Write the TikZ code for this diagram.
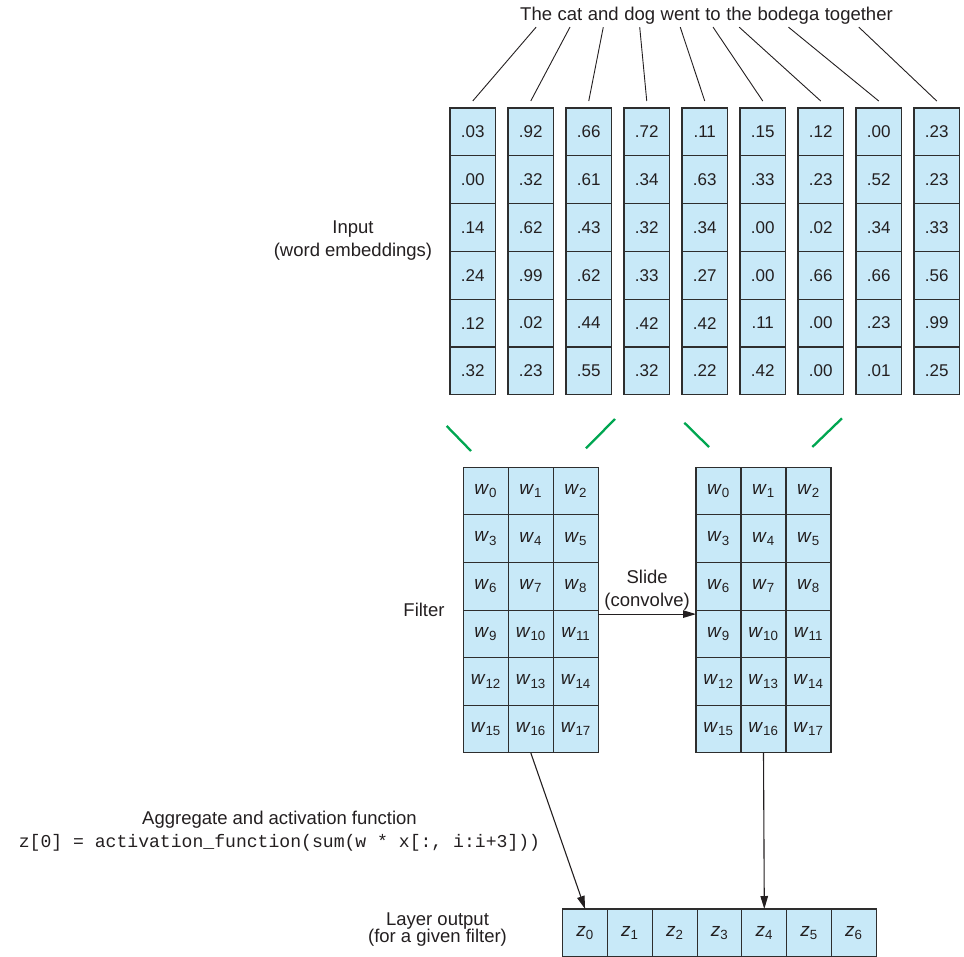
\documentclass[tikz,border=0pt]{standalone}
\usepackage{fontspec}
\setmainfont{Liberation Sans}
\setmonofont{Liberation Mono}
\usetikzlibrary{arrows.meta,positioning}
\definecolor{cellfill}{HTML}{C8E9F8}
\definecolor{cellline}{HTML}{2E2E2E}
\definecolor{ink}{HTML}{231F20}
\definecolor{winedge}{HTML}{00A651}
\newcommand{\wsub}[1]{\textit{w}\textsubscript{#1}}
\newcommand{\zsub}[1]{\textit{z}\textsubscript{#1}}

\begin{document}
\begin{tikzpicture}[
  x=1pt,y=1pt,
  font=\fontsize{18.5}{22.5}\selectfont,
  box/.style={draw=cellline,line width=1.1pt,fill=cellfill,inner sep=0pt,outer sep=0pt,text=ink},
  num/.style={box,minimum width=45.5pt,minimum height=47.8pt,font=\fontsize{17}{20}\selectfont},
  wbox/.style={box,minimum width=45pt,minimum height=47.6pt,font=\fontsize{19}{22}\selectfont},
  zbox/.style={box,minimum width=44.8pt,minimum height=47.8pt,font=\fontsize{19}{22}\selectfont},
  word/.style={inner xsep=0pt,inner ysep=3.7pt,text height=0.72em,text depth=0.25em,text=ink},
  lbl/.style={align=center,text=ink},
  wire/.style={draw=ink,line width=0.9pt},
  arr/.style={-{Triangle[length=13pt,width=7.5pt]},draw=ink,line width=1.1pt},
  winline/.style={draw=winedge,line width=2.3pt}
]
\useasboundingbox (0,0) rectangle (964,-956);

% sentence, one node per word
\node[word,anchor=base west] (t1) at (520,-20.7) {The};
\node[word,right=5.15pt of t1] (t2) {cat};
\node[word,right=5.15pt of t2] (t3) {and};
\node[word,right=5.15pt of t3] (t4) {dog};
\node[word,right=5.15pt of t4] (t5) {went};
\node[word,right=5.15pt of t5] (t6) {to};
\node[word,right=5.15pt of t6] (t7) {the};
\node[word,right=5.15pt of t7] (t8) {bodega};
\node[word,right=5.15pt of t8] (t9) {together};

% input embeddings
\foreach \row/\vals in {
  1/{.03,.92,.66,.72,.11,.15,.12,.00,.23},
  2/{.00,.32,.61,.34,.63,.33,.23,.52,.23},
  3/{.14,.62,.43,.32,.34,.00,.02,.34,.33},
  4/{.24,.99,.62,.33,.27,.00,.66,.66,.56},
  5/{.12,.02,.44,.42,.42,.11,.00,.23,.99},
  6/{.32,.23,.55,.32,.22,.42,.00,.01,.25}}
  \foreach \v [count=\col] in \vals
    \node[num] (in-\row-\col) at ({472.75+58*(\col-1)},{-131.9-47.8*(\row-1)}) {\v};

\foreach \i in {1,...,9}
  \draw[wire] (t\i.south) -- ([yshift=7pt]in-1-\i.north);

\node[lbl] (inputlbl) at (353,-240.5) {Input\\(word embeddings)};

% window edges
\draw[winline] (446.7,-426) -- (471,-451);
\draw[winline] (586,-448.3) -- (615,-419);
\draw[winline] (684.3,-422.7) -- (709,-447);
\draw[winline] (812.3,-447) -- (842,-418.3);

% filter, before and after the slide
\foreach \fname/\fx in {fa/485.8,fb/718.5}
  \foreach \row in {1,...,6}
    \foreach \col in {1,2,3} {
      \pgfmathtruncatemacro{\idx}{3*(\row-1)+\col-1}
      \node[wbox] (\fname-\row-\col) at ({\fx+45*(\col-1)},{-491.1-47.6*(\row-1)}) {\wsub{\idx}};
    }

\node[lbl,anchor=base] (filterlbl) at (424,-616) {Filter};

\draw[arr] ([yshift=-4pt]fa-4-3.north east) -- node[lbl,above] (slidelbl) {Slide\\(convolve)} ([yshift=-4pt]fb-4-1.north west);

% layer output
\foreach \k in {0,...,6}
  \node[zbox] (z-\k) at ({585.1+44.8*\k},-932.9) {\zsub{\k}};

\draw[arr] (fa-6-2.south) -- (z-0.north);
\draw[arr] (fb-6-2.south) -- (z-4.north);

\node[lbl] (agglbl) at (279.5,-831) {Aggregate and activation function\\{\ttfamily\fontsize{18.1}{22}\selectfont z[0] = activation\_function(sum(w * x[:, i:i+3]))}};
\node[lbl,font={\fontsize{18.5}{17}\selectfont\lineskiplimit=-20pt}] (outlbl) at (437.5,-929.5) {Layer output\\(for a given filter)};
\end{tikzpicture}
\end{document}
